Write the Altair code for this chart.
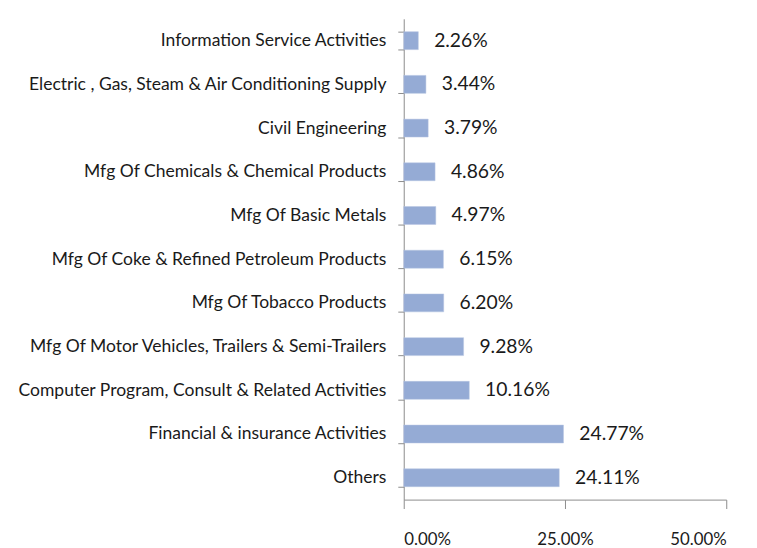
import altair as alt
import pandas as pd

categories = [
    "Information Service Activities",
    "Electric , Gas, Steam & Air Conditioning  Supply",
    "Civil Engineering",
    "Mfg Of Chemicals & Chemical Products",
    "Mfg Of Basic Metals",
    "Mfg Of Coke & Refined Petroleum Products",
    "Mfg Of Tobacco Products",
    "Mfg Of Motor Vehicles, Trailers & Semi-Trailers",
    "Computer Program, Consult  & Related Activities",
    "Financial & insurance Activities",
    "Others",
]
values = [0.0226, 0.0344, 0.0379, 0.0486, 0.0497, 0.0615, 0.0620, 0.0928, 0.1016, 0.2477, 0.2411]
x_ticks = [0, 0.25, 0.5]

df = pd.DataFrame({"sector": categories, "share": values})

FONT = "Lato"
AXIS_COLOR = "#8c8c8c"

base = alt.Chart(df).encode(
    y=alt.Y(
        "sector:N",
        sort=categories,
        title=None,
        scale=alt.Scale(paddingInner=0.59, paddingOuter=0.295),
        axis=alt.Axis(
            tickBand="extent",
            tickSize=6,
            labelPadding=12,
            labelFontSize=17.7,
            labelFont=FONT,
            labelColor="#1a1a1a",
            labelLimit=420,
            domainColor=AXIS_COLOR,
            tickColor=AXIS_COLOR,
        ),
    ),
    x=alt.X(
        "share:Q",
        title=None,
        scale=alt.Scale(domain=[0, 0.5], nice=False),
        axis=alt.Axis(
            values=x_ticks,
            format=".2%",
            grid=False,
            tickSize=9,
            labelPadding=23,
            labelFontSize=17,
            labelFont=FONT,
            labelColor="#1a1a1a",
            domainColor=AXIS_COLOR,
            tickColor=AXIS_COLOR,
        ),
    ),
)

bars = base.mark_bar(color="#95abd5", stroke="#b8c6e3", strokeWidth=0.5)
labels = base.mark_text(
    align="left", baseline="middle", dx=16, fontSize=19.5, font=FONT, color="#1a1a1a"
).encode(text=alt.Text("share:Q", format=".2%"))

chart = (
    (bars + labels)
    .properties(
        width=326,
        height=486,
        autosize=alt.AutoSizeParams(type="none"),
        padding={"left": 400, "top": 8, "right": 23, "bottom": 46},
    )
    .configure_view(stroke=None)
)

chart.save("out.html", embed_options={"renderer": "svg", "actions": False})
